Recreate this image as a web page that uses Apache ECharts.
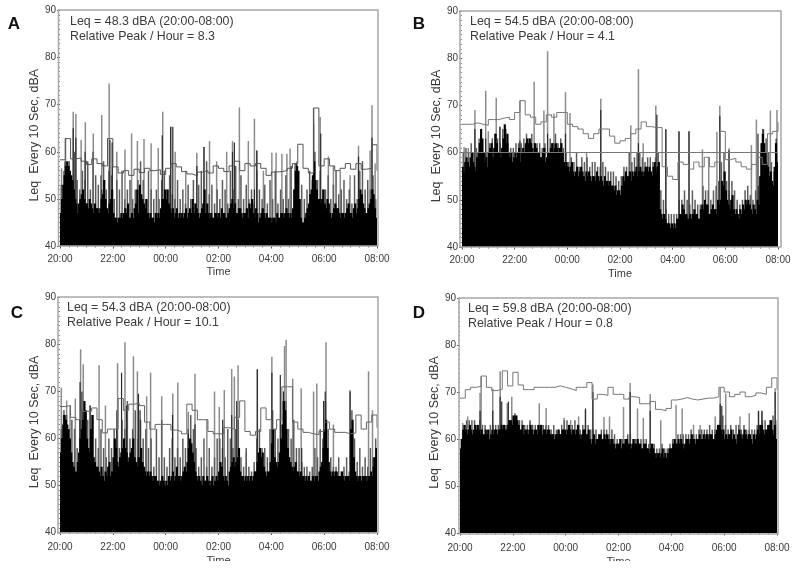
<!DOCTYPE html>
<html><head><meta charset="utf-8">
<style>html,body{margin:0;padding:0;background:#fff}#c{width:800px;height:568px;filter:blur(0.45px)}</style>
<script src="https://cdn.jsdelivr.net/npm/echarts@6/dist/echarts.min.js"></script>
</head><body><div id="c"></div>
<script>
const tickLabels=['20:00','22:00','00:00','02:00','04:00','06:00','08:00'];
const yName='Leq  Every 10 Sec, dBA', xName='Time';
const letters=['A','B','C','D'];
const noteLeq=['Leq = 48.3 dBA (20:00-08:00)','Leq = 54.5 dBA (20:00-08:00)','Leq = 54.3 dBA (20:00-08:00)','Leq = 59.8 dBA (20:00-08:00)'];
const notePeak=['Relative Peak / Hour = 8.3','Relative Peak / Hour = 4.1','Relative Peak / Hour = 10.1','Relative Peak / Hour = 0.8'];

// black body of each night: one reading every 0.05 h, one row per hour
const bodyA=[
47,50,53,55,57,58,57,56,55,54,52,50,49,47,49,50,51,52,50,49,
49,48,50,49,48,47,49,48,48,47,48,50,51,54,50,48,47,49,50,52,
47,46,46,45,46,46,47,46,47,48,47,49,46,46,47,46,48,49,52,47,
53,51,50,49,48,50,47,46,47,46,46,45,47,46,47,46,48,50,50,52,
50,52,49,48,47,48,46,47,48,46,47,46,47,46,47,48,46,47,48,47,
50,47,49,48,47,46,47,48,49,52,47,49,47,46,47,46,46,47,47,46,
47,46,48,47,47,46,46,47,48,49,50,48,49,47,47,48,48,47,46,47,
47,48,46,49,48,50,47,46,48,47,45,46,47,48,47,46,47,46,46,46,
45,46,46,45,47,46,46,47,47,46,47,48,47,46,47,46,48,52,56,57,
56,50,46,45,45,46,47,48,49,51,52,55,58,54,52,50,50,49,50,52,
49,48,50,49,47,46,47,48,49,48,48,47,46,47,47,46,47,48,49,47,
47,46,48,49,47,48,50,52,51,49,48,47,47,48,49,50,52,51,48,46];
const bodyB=[
57,56,58,59,58,57,59,60,58,57,56,59,60,62,65,63,60,58,59,57,
60,61,62,59,61,64,62,60,60,59,61,63,66,62,64,60,59,60,58,59,
60,59,60,61,58,60,61,60,62,63,62,63,62,61,60,62,61,60,60,59,
59,60,61,58,59,60,60,61,62,60,61,62,61,60,61,62,60,58,57,58,
57,56,57,58,56,55,56,57,55,56,57,56,55,54,56,55,56,55,54,55,
55,54,56,55,54,55,54,53,55,54,54,53,54,53,53,52,53,51,52,52,
51,53,55,54,56,55,55,56,54,56,55,56,57,55,56,57,56,55,56,57,
57,56,57,56,55,57,58,56,57,58,48,47,46,47,46,45,45,45,44,45,
44,45,44,46,46,47,47,49,48,47,47,46,46,47,46,47,48,47,47,46,
46,48,49,48,50,49,49,47,47,48,49,48,48,47,50,49,50,54,53,56,
52,50,49,48,50,51,48,47,48,47,46,48,47,49,48,50,49,50,49,48,
47,49,48,47,50,49,55,62,64,62,60,58,57,55,56,54,53,57,62,58];
const bodyC=[
57,60,63,65,64,63,62,60,57,55,54,53,53,55,57,60,62,64,68,66,
60,58,57,62,65,56,55,54,54,53,52,54,52,51,53,52,54,55,52,53,
56,60,58,55,54,56,57,58,60,58,57,55,56,57,58,60,56,55,54,56,
56,58,55,54,53,52,53,52,53,52,51,52,52,51,51,50,51,52,51,50,
51,50,52,51,52,53,51,52,54,52,52,51,52,53,54,53,55,58,60,59,
57,55,53,52,51,52,51,50,52,51,51,52,51,50,51,52,50,51,52,51,
53,55,54,52,51,52,51,50,53,54,55,56,54,55,56,58,53,52,52,51,
52,51,52,51,52,51,52,53,53,55,57,58,56,57,54,53,52,53,53,55,
59,62,56,55,54,55,57,60,63,68,66,62,58,56,55,54,53,54,55,53,
53,52,53,52,52,51,52,51,52,51,51,52,51,52,52,51,53,54,55,58,
62,64,58,55,53,52,53,52,53,53,52,52,52,53,52,51,52,52,52,51,
62,64,56,53,52,51,52,52,51,52,52,52,51,52,52,53,52,54,56,58];
const bodyD=[
58,60,62,63,62,61,62,63,62,61,62,63,62,63,62,61,62,61,61,62,
61,62,60,61,62,61,62,62,61,62,62,63,62,63,62,62,63,64,64,63,
65,64,65,64,63,62,62,63,61,62,62,61,62,63,62,61,62,62,61,63,
62,63,61,62,62,61,62,62,61,61,61,60,61,61,62,61,61,62,62,62,
61,62,63,62,61,62,62,61,62,63,61,60,61,62,62,61,61,62,60,59,
60,61,59,60,60,61,61,60,60,61,60,61,60,59,60,60,59,58,59,59,
59,60,58,59,59,60,60,59,59,58,59,60,59,59,60,59,59,58,58,59,
59,58,58,57,58,59,58,57,56,57,57,56,57,58,56,57,56,57,58,58,
58,59,60,59,59,60,59,60,59,58,59,60,60,59,60,61,60,60,59,60,
60,61,60,60,61,60,61,61,60,61,61,60,60,61,62,63,63,62,61,62,
60,61,60,61,61,62,60,61,60,59,61,62,61,60,61,62,61,60,61,61,
60,59,61,60,61,62,61,63,63,62,61,62,62,63,63,64,62,61,63,60];

// low grey comb just above the body: one reading every 0.1 h
const fringeA=[53,56,55,58,52,60,54,52,56,54, 58,52,60,55,53,55,58,52,56,55, 50,54,52,56,50,52,54,50,52,54, 58,54,50,56,52,50,52,50,54,56, 52,55,51,50,54,50,52,49,53,50, 54,49,53,56,50,58,51,53,49,52, 50,54,52,49,56,52,57,50,55,50, 53,50,52,49,56,52,50,53,49,54, 50,56,49,52,50,55,50,57,52,51, 49,53,50,52,56,54,60,54,56,52, 52,55,50,53,56,51,52,54,50,52, 49,55,50,56,58,52,54,52,55,50];
const fringeB=[60,61,60,62,60,61,63,61,60,60, 62,63,64,63,62,65,65,62,61,61, 62,62,62,63,64,63,64,62,62,62, 61,62,60,63,62,64,62,63,61,60, 58,59,58,60,57,59,58,59,57,58, 58,57,57,58,57,56,56,56,55,54, 55,57,57,60,58,59,60,60,59,58, 59,59,58,59,60,52,50,48,47,47, 47,47,50,50,52,50,49,52,50,49, 49,53,52,52,50,52,53,54,58,60, 54,52,54,52,50,49,50,52,53,51, 50,52,53,60,65,63,60,58,56,60];
const fringeC=[62,66,65,60,64,62,58,64,66,66, 64,60,65,60,58,62,58,56,60,58, 62,66,58,64,62,68,60,62,66,60, 64,60,62,58,60,54,62,56,64,56, 54,58,60,56,58,56,60,58,62,65, 62,58,54,56,60,54,58,54,56,60, 60,58,56,62,60,58,62,64,56,54, 58,54,53,55,60,62,58,58,56,62, 66,62,60,64,68,68,62,60,64,58, 58,55,54,54,53,54,58,56,62,60, 68,62,56,54,54,56,53,54,56,53, 66,60,55,58,54,56,54,58,56,60];
const fringeD=[60,63,64,64,64,64,63,64,63,63, 62,63,63,63,63,63,63,63,64,64, 65,65,64,64,63,63,64,63,63,63, 63,63,63,63,62,63,62,62,63,64, 64,63,63,64,63,62,63,63,63,62, 62,62,61,62,62,62,61,62,61,60, 60,60,60,61,61,60,60,60,60,60, 60,59,59,59,58,58,59,58,58,59, 60,60,61,61,61,61,61,62,61,61, 62,62,62,62,63,62,62,63,64,65, 63,62,63,62,63,63,62,63,62,62, 62,62,63,63,64,64,63,64,65,64];

// outline: one reading every 0.2 h
const upperA=[58.3,62.8,58.5,58.7,58,57.3,58.5,57.5,57,62.8, 56.8,55.5,56,55,56.3,55.6,56.5,56,56.2,55.2, 56.5,57.5,56.8,55.8,55.3,54.9,55.7,56,55.5,57, 56.5,55.8,57,58,56,57.5,57,57.5,56.5,55, 55.7,55.8,56,56.5,57.5,61.6,56.5,55.5,69.3,57, 58.5,57,56,56.5,57.5,56.3,57.5,56.3,56.5,61.5,56];
const upperB=[66,66,66.3,66,65.8,67,67,67.3,67.5,67, 68.5,71,68,67.5,66,66.5,68,67.5,68.5,68.5, 66,65.5,65,64,63,64,65,65,63.5,62, 62.5,63,64,65,66.5,65.5,65.3,65.3,57,55, 54.3,58,57.5,56.5,58,57,59,57,58,64.5, 58.5,58.8,58,57,56.5,57.5,59,57.5,64,64.5,66.5];
const upperC=[66.8,67,64.5,64,65.8,65.8,66.5,64,61.2,62, 62,68.5,66,67.3,67.5,67,63.5,62,63,63, 63,61.8,61.5,61,67.3,66,64,64,61.5,61, 61,62.3,62,64.5,68,61.5,60.7,61.5,66.5,64, 62,64,71,71,63.5,62,61.3,61,60.8,61.5, 63.5,62,61.3,61.3,61,61.2,65,62,63.5,65,62.3];
const upperD=[68.7,70.5,71,71.2,73.4,71,70.3,70.6,74.5,71.3, 74.2,71.5,70.5,70.5,71,71,71,71,71.3,71, 70.7,70.3,71,71,72,68.5,69.5,69.3,71,69.5, 69.5,68.5,69,68.8,67.5,67.5,68,66.3,66,66.5, 68.3,68.5,68.8,68.5,68.3,68.5,68.7,68.7,69,71, 70,69,69.5,70,69,69.3,69.8,69.5,71,73,70.5];

// grey peaks: hour after 20:00, level
const greyHoursA=[.06,.21,.5,.6,.8,.96,1.26,1.58,1.86,1.98,2.15,2.46,2.71,2.93,3.18,3.45,3.72,3.89,4.19,4.36,4.76,5.18,5.45,5.66,5.93,6.31,6.53,6.79,7.13,7.36,7.45,7.7,8.02,8.18,8.4,8.59,8.71,8.96,9.6,9.85,10.16,10.35,10.61,10.98,11.3,11.74,11.81,11.93];
const greyLevelsA=[56.5,63,68.5,68,62.5,66.3,63.9,67.8,74.5,62,60,60.5,63.9,62.3,62.7,61.8,60.8,68.5,65.3,60,56,59.8,61,62.3,58,60,62.3,69.4,62.3,67,60.3,56,59.8,59.8,59.6,59.6,60.7,58,69.3,67.4,59,57,56,55,61.3,60.3,69.9,57.5];
const greyHoursB=[.08,.24,.49,.68,.9,1.0,1.3,1.44,1.67,2.2,2.74,3.11,3.25,3.49,3.93,4.1,4.73,5.27,6.41,6.7,6.88,7.36,7.74,8.24,8.62,9.13,9.37,9.68,9.79,10.14,10.99,11.18,11.43,11.71,11.96];
const greyLevelsB=[61.2,61,69,60,73.1,64.5,71.6,65.5,65,71,75,68.9,81.5,68.3,72.8,68.4,60,71.4,65.8,77.7,62,70,64.8,64.4,64.5,60.7,59,64.4,69.9,60.9,61.6,67,65,68.9,69];
const greyHoursC=[.05,.25,.38,.58,.78,.88,1.14,1.48,1.72,2.18,2.46,2.78,2.93,3.28,3.43,3.85,4.27,4.46,4.86,5.11,5.56,5.85,6.03,6.22,6.5,6.6,6.74,7.05,7.47,8.02,8.5,8.56,8.81,9.13,9.6,9.72,10.07,10.35,10.98,11.68,11.83];
const greyLevelsC=[70.8,68.1,67,68.5,79,75.8,67,75.6,67,76,80.5,77.5,74.3,69,74,69,69.6,71.9,65.7,73.8,64,70,66.7,70.3,74.8,73.2,75.6,57,74.8,77.4,79.7,81,72.7,70.7,70,71.7,80.5,63,70.3,74.3,66];
const greyHoursD=[.1,.29,.76,.8,1.24,1.52,1.79,1.96,2.65,3.0,3.26,3.94,4.19,4.49,4.75,5.03,5.45,5.66,6.19,6.44,6.72,6.94,7.2,7.6,8.18,8.41,8.84,9.09,9.66,9.85,10.06,10.6,10.95,11.3,11.43,11.93];
const greyLevelsD=[63.4,64.8,69.8,73.3,70.7,74.4,67.6,69,63.8,67.6,66.6,64.5,64,64.8,66.2,71.6,64.7,64.8,66.8,71.9,66.5,64.5,69.6,64,67.3,66.5,63,63,64.8,70.9,69.7,64.8,65.5,65.9,65.9,70.8];

// darker peaks: hour after 20:00, level
const darkHoursA=[.19,.5,.6,.95,1.58,1.89,1.98,3.87,4.19,4.27,5.18,5.45,6.53,6.6,7.36,7.45,8.9,8.96,9.6,9.87,11.3,11.81];
const darkLevelsA=[58,65,63,60,52,62.5,62,63.5,65.3,65.3,57,61,60,62,52,60.3,57.5,57.5,66,63.9,59,63];
const darkHoursB=[.49,.9,1.44,2.2,3.25,3.5,3.93,5.27,6.7,7.4,7.74,8.24,8.62,9.79,10.14,11.24,11.43,11.93];
const darkLevelsB=[65,63,65.5,62.5,64,62,64,69,62,68,65,64.5,64.5,67.8,60.5,64,65,63];
const darkHoursC=[.13,.35,.76,.83,1.14,2.15,2.33,2.52,2.97,3.03,4.26,4.86,5.11,6.16,6.5,6.69,7.47,8.02,8.34,8.46,9.15,9.98,10.04,10.98,11.87];
const darkLevelsC=[65,60,72,70,67,62,74,67,69.5,66,65,61,63,64,65,68,74.7,74,73.5,70,58,68,70,70,56];
const darkHoursD=[.76,1.24,1.52,1.58,1.83,2.08,4.75,5.03,6.44,7.2,9.85,9.91,11.3,11.43,11.74,11.93];
const darkLevelsD=[66,66,69,68,68,65.5,66.5,70,70,66,67.5,67,66,66,64,70];

const referenceB=60; // horizontal limit line in panel B

const panels=[
 {frame:[58.5,10,378,246],plot:[60,10.5,377,246],body:bodyA,fringe:fringeA,upper:upperA,gh:greyHoursA,gl:greyLevelsA,dh:darkHoursA,dl:darkLevelsA,letter:[14,24],note:[70,22],lineCol:'#555',lab:8,gap:20,yGap:17},
 {frame:[460,11,781,247],plot:[462,11,778,247],body:bodyB,fringe:fringeB,upper:upperB,gh:greyHoursB,gl:greyLevelsB,dh:darkHoursB,dl:darkLevelsB,letter:[419,24],note:[470,22],ref:referenceB,lineCol:'#777',lab:8,gap:21,yGap:19},
 {frame:[58,297,378,533],plot:[60,297.5,377,532.5],body:bodyC,fringe:fringeC,upper:upperC,gh:greyHoursC,gl:greyLevelsC,dh:darkHoursC,dl:darkLevelsC,letter:[17,313],note:[67,308],lineCol:'#666',lab:10,gap:23,yGap:17},
 {frame:[459,298,778,534],plot:[460,298,777,533.5],body:bodyD,fringe:fringeD,upper:upperD,gh:greyHoursD,gl:greyLevelsD,dh:darkHoursD,dl:darkLevelsD,letter:[419,313],note:[468,309],lineCol:'#777',lab:10,gap:23,yGap:17}
];
const font='"Liberation Sans",Arial,sans-serif', textCol='#3a3a3a';
const grid=[],xAxis=[],yAxis=[],series=[],graphic=[];
function spikeItem(width){return function(p,api){
  const a=api.coord([api.value(0),api.value(1)]),b=api.coord([api.value(0),40]);
  return {type:'rect',shape:{x:a[0]-width/2,y:a[1],width:width,height:b[1]-a[1]},style:{fill:api.visual('color')}};
};}
panels.forEach((p,i)=>{
  grid.push({left:p.plot[0],top:p.plot[1],width:p.plot[2]-p.plot[0],height:p.plot[3]-p.plot[1],containLabel:false});
  xAxis.push({gridIndex:i,type:'value',min:0,max:12,interval:2,name:xName,nameLocation:'middle',nameGap:p.gap,
    nameTextStyle:{fontFamily:font,fontSize:11,color:textCol},
    axisLine:{show:false},splitLine:{show:false},
    axisTick:{show:true,length:2.5,lineStyle:{color:'#555'}},
    minorTick:{show:true,splitNumber:6,length:1.5,lineStyle:{color:'#666'}},
    axisLabel:{fontFamily:font,fontSize:10,color:textCol,margin:p.lab,hideOverlap:false,formatter:v=>tickLabels[v/2]}});
  yAxis.push({gridIndex:i,type:'value',min:40,max:90,interval:10,name:yName,nameLocation:'middle',nameGap:p.yGap,
    nameTextStyle:{fontFamily:font,fontSize:12.5,color:textCol,padding:[0,14,0,0]},
    axisLine:{show:false},splitLine:{show:false},
    axisTick:{show:true,length:3,lineStyle:{color:'#555'}},
    minorTick:{show:true,splitNumber:10,length:1.5,lineStyle:{color:'#888'}},
    axisLabel:{fontFamily:font,fontSize:10,color:textCol,margin:4}});
  const base={xAxisIndex:i,yAxisIndex:i,silent:true,animation:false};
  series.push({...base,type:'custom',renderItem:spikeItem(1.5),itemStyle:{color:'#8c8c8c'},z:2,clip:true,
    data:p.gh.map((h,k)=>[h,p.gl[k]])});
  series.push({...base,type:'custom',renderItem:spikeItem(1.5),itemStyle:{color:'#5c5c5c'},z:3,clip:true,
    data:p.fringe.map((v,k)=>[(k+.5)/10,v])});
  series.push({...base,type:'custom',renderItem:spikeItem(1.2),itemStyle:{color:'#2a2a2a'},z:3,clip:true,
    data:p.dh.map((h,k)=>[h,p.dl[k]])});
  series.push({...base,type:'custom',renderItem:spikeItem(2.2),itemStyle:{color:'#000'},z:4,clip:true,
    data:p.body.map((v,k)=>[(k+.5)/20,v])});
  series.push({...base,type:'line',step:'end',symbol:'none',z:5,clip:true,
    lineStyle:{color:p.lineCol,width:1},
    data:p.upper.map((v,k)=>[k/5,v]),
    markLine:p.ref?{silent:true,symbol:'none',label:{show:false},animation:false,
      lineStyle:{color:'#777',width:1,type:'solid'},data:[{yAxis:p.ref}]}:undefined});
  const f=p.frame;
  graphic.push({type:'rect',shape:{x:f[0],y:f[1],width:f[2]-f[0],height:f[3]-f[1]},style:{fill:'none',stroke:'#a8a8a8',lineWidth:1.5},z:50,silent:true});
  graphic.push({type:'text',x:p.letter[0],y:p.letter[1],style:{text:letters[i],font:'bold 17px '+font,fill:'#111',align:'center',verticalAlign:'middle'},z:50,silent:true});
  graphic.push({type:'text',x:p.note[0],y:p.note[1],style:{text:noteLeq[i],font:'12.4px '+font,fill:textCol,verticalAlign:'middle'},z:50,silent:true});
  graphic.push({type:'text',x:p.note[0],y:p.note[1]+15,style:{text:notePeak[i],font:'12.4px '+font,fill:textCol,verticalAlign:'middle'},z:50,silent:true});
});
// the source image is cropped just under the lower time captions
graphic.push({type:'rect',shape:{x:0,y:561,width:800,height:7},style:{fill:'#fff'},z:60,silent:true});
const chart=echarts.init(document.getElementById('c'),null,{renderer:'canvas'});
chart.setOption({animation:false,backgroundColor:'#fff',grid,xAxis,yAxis,series,graphic});
</script></body></html>
